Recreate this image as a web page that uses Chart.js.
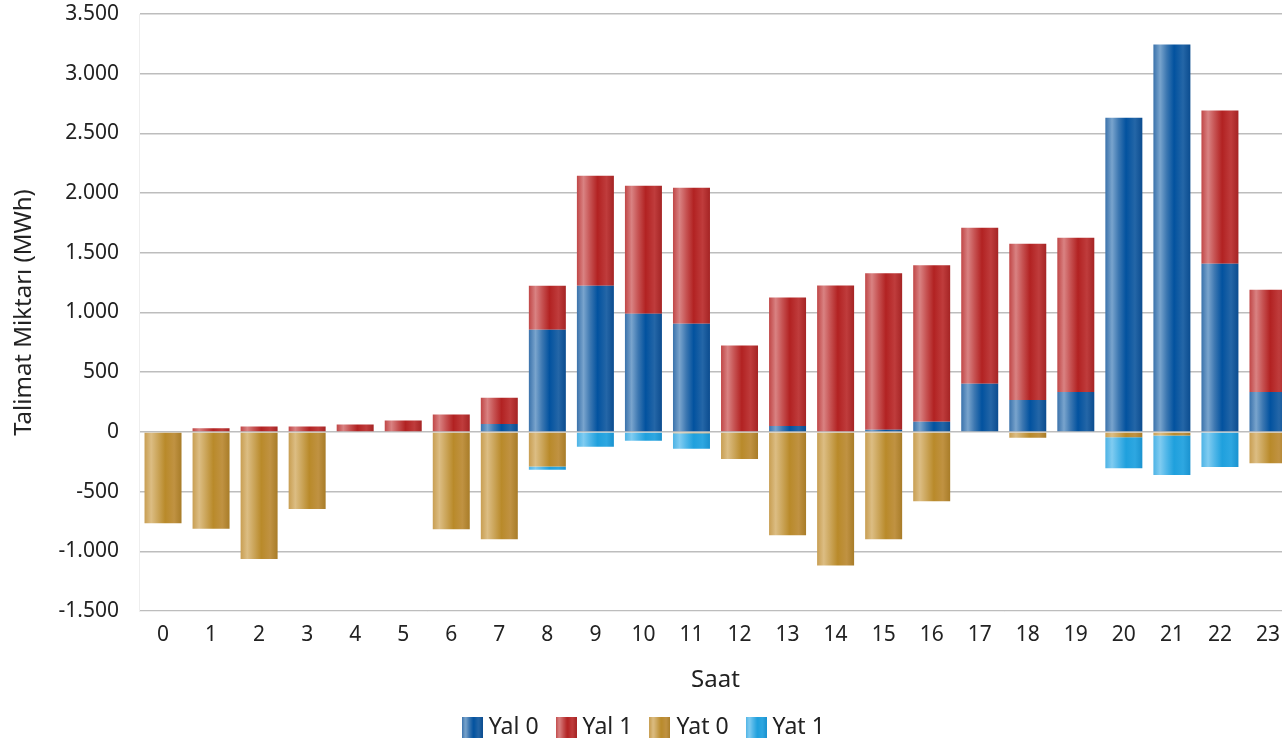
<!DOCTYPE html>
<html>
<head>
<meta charset="utf-8">
<script src="https://cdn.jsdelivr.net/npm/chart.js@4.4.0/dist/chart.umd.min.js"></script>
<style>
  html, body { margin: 0; padding: 0; background: #fff; overflow: hidden; }
  #wrap { position: relative; width: 1292px; height: 741px; }
</style>
</head>
<body>
<div id="wrap"><canvas id="c"></canvas></div>
<script>
const hours = ['0','1','2','3','4','5','6','7','8','9','10','11','12','13','14','15','16','17','18','19','20','21','22','23'];
const yal0 = [0,0,0,0,0,0,0,67,855,1224,989,905,0,50,0,17,84,403,268,335,2632,3244,1408,335];
const yal1 = [0,30,46,46,63,96,146,218,369,922,1073,1140,723,1076,1227,1311,1311,1307,1308,1291,0,0,1283,855];
const yat0 = [-765,-812,-1064,-646,0,0,-815,-900,-290,0,0,-12,-227,-866,-1118,-899,-580,0,-50,0,-45,-30,0,-262];
const yat1 = [0,0,0,0,0,0,0,0,-28,-125,-75,-130,0,0,0,0,0,0,0,0,-260,-330,-295,0];
const yTicks = [-1500,-1000,-500,0,500,1000,1500,2000,2500,3000,3500];

const seriesNames = ['Yal 0','Yal 1','Yat 0','Yat 1'];
const baseColors = ['#0a56a0','#b22424','#b98a2c','#22a2de'];
const stops = [
  [[0,'#3a72ab'],[0.18,'#79a4cd'],[0.36,'#3c77b1'],[0.56,'#02529f'],[0.8,'#2466a7'],[1,'#0b4c8f']],
  [[0,'#c04646'],[0.18,'#d98282'],[0.36,'#c65252'],[0.56,'#b22222'],[0.8,'#bf3c3c'],[1,'#a52424']],
  [[0,'#c89e52'],[0.18,'#dcbd83'],[0.36,'#cba55a'],[0.56,'#b98a2a'],[0.8,'#c09242'],[1,'#a87c28']],
  [[0,'#4db3e5'],[0.18,'#80ccf1'],[0.36,'#4fb6e8'],[0.56,'#1fa0dd'],[0.8,'#2ea7e1'],[1,'#1a92cf']]
];

function makeGrad(ctx, x0, x1, s) {
  const g = ctx.createLinearGradient(x0, 0, x1, 0);
  s.forEach(p => g.addColorStop(p[0], p[1]));
  return g;
}

function legendIcon(i) {
  const cv = document.createElement('canvas');
  cv.width = 21; cv.height = 21;
  const cx = cv.getContext('2d');
  cx.fillStyle = makeGrad(cx, 0, 21, stops[i]);
  cx.fillRect(0, 0, 21, 21);
  return cv;
}
const icons = [0,1,2,3].map(legendIcon);

function fmt(v) {
  const neg = v < 0;
  let s = String(Math.abs(v));
  s = s.replace(/\B(?=(\d{3})+(?!\d))/g, '.');
  return (neg ? '-' : '') + s;
}

const gradPlugin = {
  id: 'barGrad',
  beforeDatasetsDraw(chart) {
    const ctx = chart.ctx;
    chart.data.datasets.forEach((ds, di) => {
      const meta = chart.getDatasetMeta(di);
      meta.data.forEach(el => {
        const x0 = el.x - el.width / 2, x1 = el.x + el.width / 2;
        el.options.backgroundColor = makeGrad(ctx, x0, x1, stops[di]);
      });
    });
  }
};

const datasets = [yal0, yal1, yat0, yat1].map((d, i) => ({
  label: seriesNames[i],
  data: d,
  backgroundColor: () => baseColors[i],
  borderWidth: 0,
  barPercentage: 0.77,
  categoryPercentage: 1.0,
  stack: 's'
}));

new Chart(document.getElementById('c'), {
  type: 'bar',
  data: { labels: hours, datasets },
  plugins: [gradPlugin],
  options: {
    responsive: true,
    maintainAspectRatio: false,
    animation: false,
    events: [],
    layout: { padding: { top: 14, left: 0, right: 0, bottom: -7.5 } },
    plugins: {
      tooltip: { enabled: false },
      legend: {
        position: 'bottom',
        labels: {
          font: { family: 'Noto Sans', size: 23 },
          color: '#222',
          usePointStyle: true,
          boxWidth: 10,
          boxHeight: 21,
          padding: 22.5,
          generateLabels: (chart) => chart.data.datasets.map((ds, i) => ({
            text: ds.label,
            pointStyle: icons[i],
            fillStyle: baseColors[i],
            strokeStyle: 'transparent',
            lineWidth: 0,
            hidden: false,
            datasetIndex: i,
            fontColor: '#222'
          }))
        }
      }
    },
    scales: {
      x: {
        stacked: true,
        grid: { display: false, drawTicks: false },
        border: { display: true, color: '#eeeeee', width: 1 },
        ticks: { font: { family: 'Noto Sans', size: 21 }, color: '#222', padding: 11, maxRotation: 0 },
        title: { display: true, text: 'Saat', font: { family: 'Noto Sans', size: 24 }, color: '#222', padding: { top: 10, bottom: -2 } },
        afterFit: (scale) => { scale.height = 82; }
      },
      y: {
        stacked: true,
        min: -1500,
        max: 3500,
        afterBuildTicks: (scale) => { scale.ticks = yTicks.map(v => ({ value: v })); },
        afterFit: (scale) => { scale.width = 139; scale.paddingTop = 0; scale.paddingBottom = 0; },
        grid: { color: '#bdbdbd', lineWidth: 1.5, drawTicks: false },
        border: { display: true, color: '#eeeeee', width: 1 },
        ticks: { font: { family: 'Noto Sans', size: 21 }, color: '#222', padding: 20, callback: (v) => fmt(v) },
        title: { display: true, text: 'Talimat Miktarı (MWh)', font: { family: 'Noto Sans', size: 24 }, color: '#222', padding: { top: 10, bottom: 0 } }
      }
    }
  }
});
</script>
</body>
</html>
